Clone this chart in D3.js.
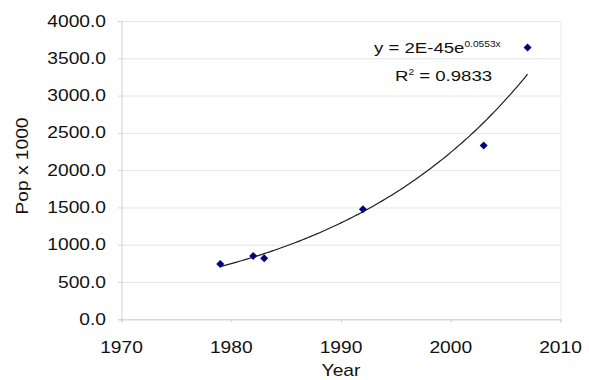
<!DOCTYPE html>
<html>
<head>
<meta charset="utf-8">
<script src="https://cdn.jsdelivr.net/npm/d3@7"></script>
<style>
  body { margin: 0; background: #fff; }
  text { font-family: "Liberation Sans", Arial, sans-serif; fill: #111; }
</style>
</head>
<body>
<div id="chart"></div>
<script>
// data
const years = [1979, 1982, 1983, 1992, 2003, 2007];
const pop = [742, 850, 819, 1477, 2330, 3646];
const xTicks = [1970, 1980, 1990, 2000, 2010];
const yTicks = [0, 500, 1000, 1500, 2000, 2500, 3000, 3500, 4000];
const eqText = 'y = 2E-45e';
const eqExp = '0.0553x';
const r2Text = '= 0.9833';

const W = 589, H = 380;
const margin = {top: 21, right: 28.5, bottom: 60.7, left: 121.5};
const dim = {w: W - margin.left - margin.right, h: H - margin.top - margin.bottom};
const sx = 1.2; // text in the picture is stretched sideways

const svg = d3.select('#chart').append('svg')
  .attr('width', W)
  .attr('height', H);
const g = svg.append('g')
  .attr('transform', `translate(${margin.left}, ${margin.top})`);

const x = d3.scaleLinear().domain([1970, 2010]).range([0, dim.w]);
const y = d3.scaleLinear().domain([0, 4000]).range([dim.h, 0]);

// grid
g.selectAll('line.grid')
  .data(yTicks)
  .enter()
  .append('line')
  .attr('class', 'grid')
  .attr('x1', 0).attr('x2', dim.w)
  .attr('y1', d => y(d) + 0.5).attr('y2', d => y(d) + 0.5)
  .attr('stroke', '#e6e6e6');
g.append('line')
  .attr('x1', dim.w + 0.5).attr('x2', dim.w + 0.5)
  .attr('y1', 0).attr('y2', dim.h)
  .attr('stroke', '#ececec');

// axes
const yAxis = g.append('g')
  .call(d3.axisLeft(y).tickValues(yTicks).tickSize(3).tickFormat(''));
const xAxis = g.append('g')
  .attr('transform', `translate(0, ${dim.h})`)
  .call(d3.axisBottom(x).tickValues(xTicks).tickSize(3).tickFormat(''));
[xAxis, yAxis].forEach(a => {
  a.selectAll('path, line').attr('stroke', '#cfcfcf');
});

// tick labels
g.selectAll('text.ylab')
  .data(yTicks)
  .enter()
  .append('text')
  .attr('class', 'ylab')
  .attr('transform', d => `translate(-15.5, ${y(d) + 5.5}) scale(${sx}, 1)`)
  .attr('text-anchor', 'end')
  .style('font-size', '16px')
  .text(d => d3.format('.1f')(d));
g.selectAll('text.xlab')
  .data(xTicks)
  .enter()
  .append('text')
  .attr('class', 'xlab')
  .attr('transform', d => `translate(${x(d)}, ${dim.h + 33.5}) scale(${sx}, 1)`)
  .attr('text-anchor', 'middle')
  .style('font-size', '16px')
  .text(d => d);

// axis titles
svg.append('text')
  .attr('transform', `translate(${margin.left + dim.w / 2}, 376) scale(${sx}, 1)`)
  .attr('text-anchor', 'middle')
  .style('font-size', '16px')
  .text('Year');
svg.append('text')
  .attr('transform', `translate(28, 166) rotate(-90) scale(${sx}, 1)`)
  .attr('text-anchor', 'middle')
  .style('font-size', '16px')
  .text('Pop x 1000');

// exponential trend fitted on ln(pop)
const lx = years, ly = pop.map(Math.log);
const mx = d3.mean(lx), my = d3.mean(ly);
const b = d3.sum(lx, (v, i) => (v - mx) * (ly[i] - my)) / d3.sum(lx, v => (v - mx) ** 2);
const a = my - b * mx;
const trendX = d3.range(years[0], years[years.length - 1] + 0.001, 0.25);
g.append('path')
  .datum(trendX)
  .attr('fill', 'none')
  .attr('stroke', '#1e1e1e')
  .attr('stroke-width', 1.2)
  .attr('d', d3.line().x(d => x(d)).y(d => y(Math.exp(a + b * d))));

// markers
const r = 4;
g.selectAll('path.pt')
  .data(years)
  .enter()
  .append('path')
  .attr('class', 'pt')
  .attr('fill', '#000080')
  .attr('d', (d, i) => {
    const cx = x(d), cy = y(pop[i]);
    return `M${cx},${cy - r}L${cx + r},${cy}L${cx},${cy + r}L${cx - r},${cy}Z`;
  });

// equation label
const eq = svg.append('text')
  .attr('transform', `translate(374, 53) scale(${sx}, 1)`)
  .style('font-size', '15.5px');
eq.append('tspan').text(eqText);
eq.append('tspan')
  .attr('dy', -6)
  .style('font-size', '8.5px')
  .text(eqExp);
const r2 = svg.append('text')
  .attr('transform', `translate(395, 81) scale(${sx}, 1)`)
  .style('font-size', '15.5px');
r2.append('tspan').text('R');
r2.append('tspan').attr('dy', -6).style('font-size', '8.5px').text('2');
r2.append('tspan').attr('dy', 6).text(' ' + r2Text);
</script>
</body>
</html>
